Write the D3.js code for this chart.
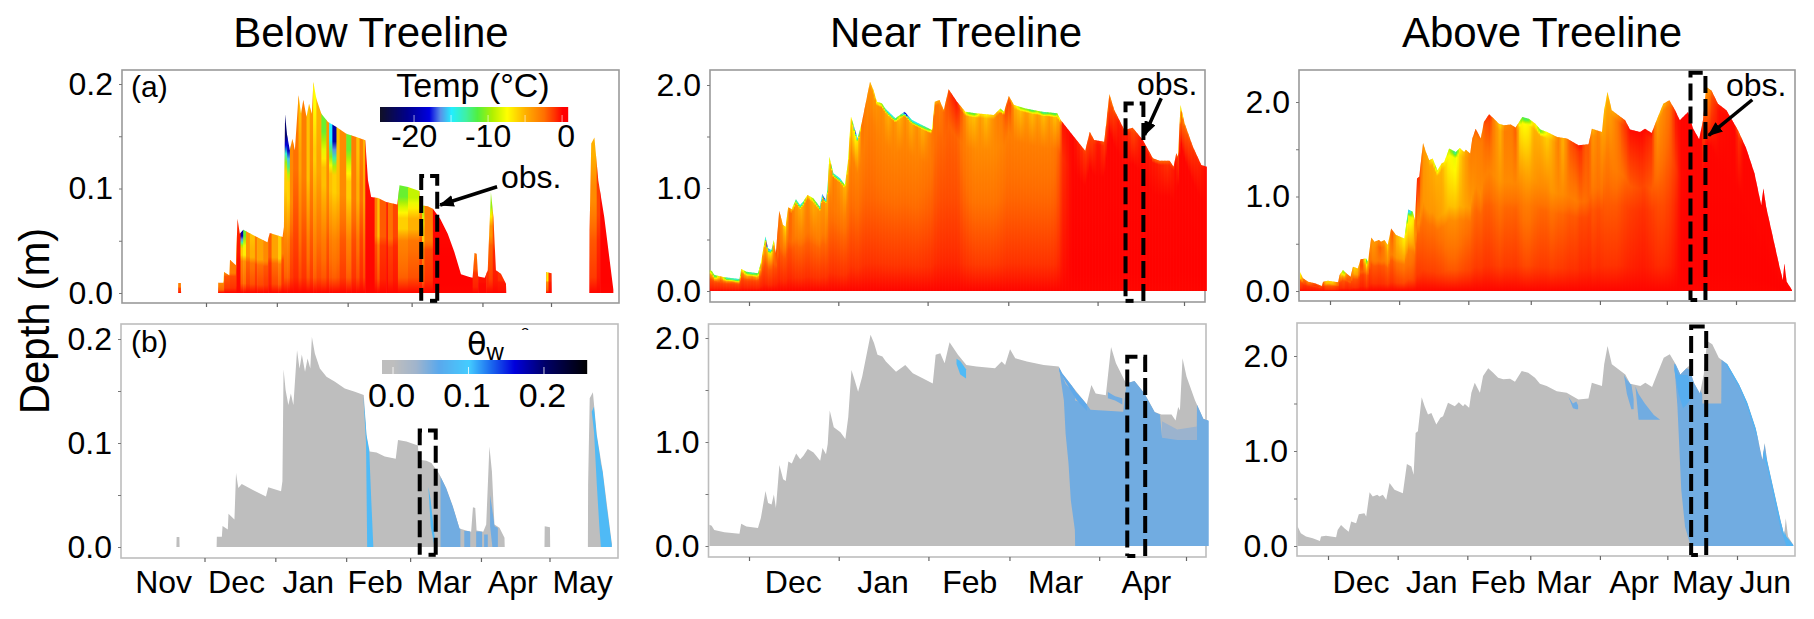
<!DOCTYPE html>
<html>
<head>
<meta charset="utf-8">
<script src="https://cdn.jsdelivr.net/npm/d3@7"></script>
<style>
  body { margin: 0; background: #fff; }
  text { font-family: "Liberation Sans", Arial, sans-serif; fill: #000; }
</style>
</head>
<body>
<svg id="chart" width="1814" height="619"></svg>
<script>
// days are counted from Dec 1, depth in metres

var monthStarts = [0, 31, 62, 90, 121, 151, 182];

var monthNamesBT = ["Nov", "Dec", "Jan", "Feb", "Mar", "Apr", "May"];
var monthMidsBT = [-17.9, 14, 45.4, 74.7, 104.8, 134.9, 165.5];
var monthNamesNT = ["Dec", "Jan", "Feb", "Mar", "Apr"];
var monthMidsNT = [15.3, 46.3, 76.3, 105.9, 137.3];
var monthNamesAT = ["Dec", "Jan", "Feb", "Mar", "Apr", "May", "Jun"];
var monthMidsAT = [14.7, 46.2, 75.7, 104.9, 136.2, 166.5, 194.6];

var yTicksBT = [0, 0.05, 0.1, 0.15, 0.2];
var yTicksDeep = [0, 0.5, 1, 1.5, 2];

// snow depth, below treeline
var daysBT = [-12.3, -12.2, -11, -10.9, 5.3, 5.4, 7.6, 7.9, 10.2, 10.5, 13.1, 13.8, 14.8, 16.3, 21.4, 26.9, 27.9, 33.5, 34.1, 34.6, 35.5, 36.7, 37.8, 38.9, 40.5, 41.6, 42.6, 44, 45.1, 46.3, 47, 48.3, 50.5, 53.4, 57.1, 61.4, 65.8, 69.7, 70.9, 72.3, 75.3, 78.9, 83.7, 84.7, 88.4, 93.4, 93.9, 97.1, 99.3, 102.5, 105.8, 108.7, 111.6, 115.3, 116.7, 117.5, 118.5, 119.1, 122, 123.3, 124.7, 125.8, 126.9, 129.1, 131.3, 131.4, 148.8, 148.9, 151.2, 151.3, 167.8, 167.9, 168.6, 170, 171.7, 174.3, 178.3];
var depthBT = [0, 0.0096, 0.0096, 0, 0, 0.0099, 0.0099, 0.0201, 0.0169, 0.0319, 0.0265, 0.0711, 0.0568, 0.0606, 0.0545, 0.0485, 0.0574, 0.0536, 0.0632, 0.171, 0.151, 0.1365, 0.1477, 0.1365, 0.1892, 0.1716, 0.185, 0.1684, 0.1812, 0.1716, 0.2019, 0.186, 0.1716, 0.1636, 0.1589, 0.1525, 0.1493, 0.1461, 0.1078, 0.0919, 0.0909, 0.0871, 0.0848, 0.103, 0.1014, 0.0976, 0.0839, 0.0829, 0.0807, 0.0711, 0.0568, 0.0392, 0.0179, 0.0153, 0.0147, 0.0383, 0.0376, 0.0159, 0.0147, 0.0217, 0.0967, 0.0727, 0.0217, 0.0185, 0.0089, 0, 0, 0.02, 0.019, 0, 0, 0.06, 0.143, 0.1487, 0.108, 0.0727, 0.003];

// temperature of the strips, below treeline (last entry closes the strips)
var colDaysBT = [-12.2, -11, 5.4, 7.9, 10.5, 13.1, 13.4, 15.1, 16.3, 17.5, 19.2, 21.4, 22.4, 25, 27.2, 28.7, 31.6, 33, 34.1, 35.5, 36.7, 38.1, 40.5, 41.8, 44, 45.4, 46.9, 48.3, 50.5, 52.7, 53.9, 55.3, 57.1, 58.5, 61.4, 63.6, 65.8, 67.2, 68.7, 69.7, 73.8, 75, 76, 78.9, 79.6, 81.8, 84, 88.4, 93.4, 94.6, 95.6, 99.3, 116.7, 119.1, 122.6, 123.7, 125.5, 127.7, 131.4, 148.9, 149.9, 151.2, 167.9, 171, 172.5, 178.3];
var colMidBT = [-3, -3, -6.5, -3.5, -3, -3, -0.5, -6, -7, -4, -5, -3, -4.5, -3.5, -2, -4.5, -6, -3, -6, -6, -3.5, -2.5, -4.5, -3, -5.5, -3.5, -6, -4.5, -5.5, -3.5, -5.5, -6, -5.5, -3.5, -6, -3, -5, -2.5, -4.5, -0.3, -3, -5.5, -2, -0.5, -2.5, -1.5, -6, -5, -3, -6, -3, -0.1, -2, -0.3, -2, -4, -1.5, -1, -1, -7, -1, -1, -3.5, -1.5, -0.1, -0.1];
var colTopBT = [-3, -3, -6.5, -4, -3, -3.5, -0.8, -20, -11, -4, -5.5, -3, -4.5, -3.5, -2, -4.5, -6, -3, -22, -19, -3.5, -3, -5.5, -3, -5.5, -4, -7.5, -5, -11, -4, -15, -20, -5.5, -3.5, -11, -3, -5.5, -3, -5, -0.3, -3, -5.5, -2, -0.5, -2.5, -1.5, -11, -9, -3, -9, -3, -0.1, -2.5, -0.3, -2.5, -10, -2, -1, -1, -7, -1, -1, -5, -1, -0.1, -0.1];

// snow depth, near treeline
var daysNT = [-13.7, -12.9, -12, -8.5, -3.3, -2.7, -0.9, 3.1, 4.1, 4.9, 5.7, 6.6, 7.8, 8.6, 9.3, 10.5, 11.8, 12.7, 13.6, 14.8, 16.3, 17.7, 18.8, 20.3, 22.3, 24.6, 25.4, 26.6, 27.2, 27.9, 29.3, 31.6, 33.3, 34.3, 35.4, 36.5, 37.7, 39.1, 42, 43.2, 44.4, 46.1, 47.3, 50.8, 54, 56.6, 60, 63.5, 64.5, 66.1, 67.6, 69.3, 72.2, 75.1, 78.6, 85, 87.3, 88.5, 90.2, 92, 96, 101.8, 107, 108.2, 112.3, 116.7, 118.3, 119.8, 123.3, 125.1, 126.8, 130.3, 133.2, 136.7, 140.2, 142.5, 146, 147.4, 148.3, 148.9, 149.8, 151.2, 154.1, 157, 158.9];
var depthNT = [0.204, 0.194, 0.155, 0.133, 0.117, 0.214, 0.188, 0.172, 0.269, 0.398, 0.528, 0.414, 0.398, 0.495, 0.366, 0.78, 0.641, 0.625, 0.812, 0.793, 0.89, 0.835, 0.867, 0.932, 0.9, 0.819, 0.942, 0.883, 0.981, 1.304, 1.142, 1.094, 1.029, 1.24, 1.693, 1.595, 1.482, 1.628, 2.032, 1.951, 1.838, 1.822, 1.773, 1.676, 1.741, 1.66, 1.612, 1.563, 1.838, 1.854, 1.757, 1.958, 1.838, 1.741, 1.725, 1.709, 1.773, 1.741, 1.893, 1.806, 1.773, 1.741, 1.725, 1.66, 1.515, 1.362, 1.547, 1.466, 1.45, 1.913, 1.757, 1.563, 1.586, 1.466, 1.288, 1.265, 1.265, 1.207, 1.337, 1.304, 1.806, 1.628, 1.401, 1.223, 1.207];

var tempDaysNT = [-13.7, -12, -10, -8, -6, -4, -2.7, -1, 1, 3, 4.5, 6, 7.5, 9, 10.5, 12.5, 14, 16, 18, 20, 22, 24, 26, 27.5, 29, 31.5, 33, 35.4, 36.5, 37.7, 39, 41, 43, 46, 48, 50, 52, 54, 56, 58, 60, 62, 64, 66, 68, 70, 72, 74, 76, 78, 80, 82, 84, 86, 87.5, 89, 90.5, 92, 94, 96, 98, 100, 102, 104, 106, 107.5, 108.5, 112, 118.3, 121, 125, 128, 131, 133, 136, 141, 145, 148, 149.8, 151.2, 154, 158.9];
var tempMidNT = [-2, -2, -1.8, -2, -1.8, -2, -1.8, -2, -1.8, -2, -2, -2.5, -2.5, -2, -2.5, -2.5, -2.2, -3, -3, -2.7, -3, -3, -3, -3.2, -2.8, -3, -3, -3.2, -3.2, -3.2, -3, -3, -3, -3.2, -3.2, -3.2, -3.2, -3.2, -3.2, -3.2, -3, -2.8, -2.6, -2.3, -2.2, -2.2, -2.2, -2.8, -3.2, -3.5, -3.5, -3.5, -3.5, -3.4, -3.2, -3, -3, -3, -3, -3, -3, -3, -3, -3, -2.8, -2, -1, -0.1, -0.1, -0.1, -0.1, -0.1, -0.1, -0.1, -0.1, -0.1, -0.1, -0.1, -0.1, -0.1, -0.1, -0.1];
var tempSubNT = [-4, -5, -2, -4, -2.5, -5, -3, -5, -3, -5, -4, -6, -7, -1.5, -3, -6, -2, -4, -5, -3, -5, -4, -4, -6, -3, -4, -5, -6, -8, -6, -2.5, -3.5, -4, -3.5, -5, -3.5, -5, -3.5, -5, -3.5, -5, -3.5, -2.5, -3, -2, -1, -0.5, -2.5, -5, -5.5, -4, -5.5, -4, -3, -3, -1.5, -1.5, -4.5, -5.5, -4, -5.5, -4, -5.5, -4, -5.5, -4, -0.5, -0.1, -1.5, -0.3, -2, -0.5, -0.5, -1.5, -0.3, -0.5, -1, -0.3, -3, -2, -1, -0.1];
var tempTopNT = [-9, -12, -4, -13, -13, -14, -6, -12, -13, -11, -6, -18, -14, -2, -3, -7, -3, -13, -15, -5, -10, -13, -18, -7, -13, -15, -9, -7, -18, -14, -2, -4, -6, -10, -15, -14, -9, -19, -14, -15, -13, -12, -5, -4, -3, -1, -0.5, -5, -11, -11, -6, -7, -6, -5, -11, -2, -4, -6, -10, -10, -12, -9, -13, -11, -12, -8, -0.5, -0.1, -2, -0.5, -3.5, -1, -1, -2, -0.3, -2, -2, -1, -8, -3, -1.5, -0.1];

// snow depth, above treeline
var daysAT = [-13.5, -12.1, -9.8, -6.8, -3.6, -3.1, -0.9, 3.6, 4.3, 5.8, 7.3, 9.2, 10.3, 12.5, 13.7, 16.2, 17, 18.5, 19.9, 21.9, 22.9, 24.4, 25.9, 27.4, 29.6, 33.3, 35.1, 37.1, 38.1, 39, 40, 41.7, 43, 44.5, 46, 48.2, 50, 51.2, 53.4, 56.4, 58.2, 60.1, 60.9, 62.8, 63.8, 65.3, 67.6, 69, 71.3, 73.5, 75.7, 78, 81, 83.2, 86.2, 89.1, 92.1, 94.3, 97.3, 101.8, 106.2, 111.4, 115.9, 117.4, 121.9, 122.9, 124.4, 126.3, 132.3, 134.5, 139, 141.2, 144.2, 146.4, 149.4, 152.1, 154.6, 156.8, 160.5, 162.8, 165.5, 167.2, 168.7, 171, 173.9, 177.7, 182.9, 186.6, 190.3, 193.3, 194.3, 195.5, 198.5, 201.5, 203, 203.7, 204.7, 207.1];
var depthAT = [0.204, 0.134, 0.099, 0.081, 0.053, 0.099, 0.109, 0.092, 0.169, 0.222, 0.187, 0.151, 0.257, 0.239, 0.335, 0.345, 0.31, 0.567, 0.521, 0.539, 0.521, 0.539, 0.486, 0.662, 0.592, 0.556, 0.863, 0.838, 0.75, 1.19, 1.208, 1.567, 1.472, 1.384, 1.401, 1.278, 1.349, 1.366, 1.507, 1.472, 1.514, 1.472, 1.496, 1.454, 1.613, 1.718, 1.613, 1.789, 1.87, 1.824, 1.771, 1.754, 1.761, 1.729, 1.842, 1.824, 1.771, 1.708, 1.683, 1.63, 1.613, 1.542, 1.553, 1.718, 1.683, 1.912, 2.106, 1.912, 1.806, 1.708, 1.683, 1.718, 1.673, 1.806, 1.982, 2.018, 1.919, 1.806, 1.894, 1.718, 1.606, 1.806, 2.158, 2.123, 1.982, 1.912, 1.701, 1.507, 1.243, 0.908, 1.085, 0.891, 0.574, 0.257, 0.116, 0.292, 0.099, 0.011];

var tempDaysAT = [-13.5, -12, -10, -7, -3.6, -2, 1, 3.6, 5.8, 7, 9, 10.3, 12.5, 13.7, 15, 16.2, 17, 18.5, 20, 22, 24, 25.5, 27.4, 29.6, 33, 35, 36, 37, 38.1, 39.5, 41.7, 44, 47, 50, 53, 56, 58, 60, 63, 65.3, 67.6, 69, 71.3, 73, 76, 78, 81, 83, 85, 87, 89, 91, 94, 97, 99, 102, 104, 107, 110, 112, 114, 116, 117.4, 120, 122.9, 125, 128, 131, 134, 140, 144, 146.4, 149, 152, 154.6, 157, 160, 166, 167.5, 169, 171, 174, 181, 183, 185, 207];
var tempMidAT = [-2.5, -1.5, -1.5, -1.5, -1.5, -3, -3, -2, -3, -2, -2.2, -3, -2.5, -2, -2.2, -3.5, -2, -3, -3, -2.7, -3, -3.5, -3, -4, -4.5, -5, -5, -4.5, -3.5, -3.5, -4, -4, -4, -4.5, -5.5, -5.5, -5, -4.5, -4, -3.5, -3.5, -3.2, -3.2, -3.5, -4, -3.5, -3.5, -3.3, -4, -4.5, -4.5, -4, -3.5, -3.5, -4, -3.5, -3.5, -3, -3, -2.4, -2.5, -2.2, -3, -2.5, -3, -3, -3, -2.5, -2, -1.5, -2, -2.5, -2.5, -2, -1.2, -0.2, -0.1, -0.1, -0.1, -0.1, -0.1, -0.1, -0.1, -0.1, -0.1, -0.1];
var tempSubAT = [-6, -1.5, -2, -1, -1, -5, -5, -2, -5, -2, -2, -5, -4, -1, -3, -7, -2, -4, -3.5, -2, -3, -5, -2, -5, -6.5, -8, -8, -7, -1.5, -1, -4, -4.5, -5, -5, -7.5, -8, -6, -4.5, -3, -3, -3, -2, -1.5, -3, -5, -3, -3, -2, -7, -7.5, -7, -5, -5, -6, -5, -3, -5, -2, -1.5, -1, -2, -2, -4, -3, -5, -4.5, -3, -1.5, -0.5, -0.3, -1, -4, -3.5, -2.5, -0.5, -0.1, -0.1, -0.1, -2, -3.5, -1.5, -0.3, -0.1, -1, -0.1, -0.1];
var tempTopAT = [-7, -2, -3, -1.5, -2, -6, -6, -2, -11, -3, -2, -6, -5, -1, -5, -12, -3, -4, -4, -3, -4, -6, -2, -5, -7, -16, -13, -9, -1, -1, -4, -5, -9, -6, -9, -13, -7, -5, -3, -2, -3, -1.5, -1, -3, -6, -3.5, -3, -2, -10, -12, -11, -6, -11, -7, -6, -3, -5, -2, -1, -0.5, -2, -2, -5, -3, -6, -5, -4, -2, -0.3, -0.2, -0.5, -5, -5, -3, -0.5, -0.1, -0.1, -0.1, -3, -4.5, -2, -0.5, -0.2, -2, -0.1, -0.1];

// wet parts of the pack: day, upper and lower limit, water content
var wetDaysBT1 = [69.5, 70.7, 71.2, 72.1, 73, 73.9];
var wetHighBT1 = [0.1458, 0.12, 0.105, 0.093, 0.045, 0];
var wetLowBT1 = [0.1458, 0.0994, 0, 0, 0, 0];
var wetDaysBT2 = [98, 99, 100.7];
var wetHighBT2 = [0.058, 0.045, 0.01];
var wetLowBT2 = [0.058, 0.02, 0];
var wetDaysBT3 = [103.3, 105.8, 108.7, 111, 112];
var wetHighBT3 = [0.069, 0.0568, 0.0392, 0.024, 0.018];
var wetLowBT3 = [0, 0, 0, 0, 0];
var wetDaysBT4 = [113.7, 116.3];
var wetHighBT4 = [0.0153, 0.0153];
var wetLowBT4 = [0, 0];
var wetDaysBT5 = [118.9, 121.5];
var wetHighBT5 = [0.015, 0.015];
var wetLowBT5 = [0, 0];
var wetDaysBT6 = [122.4, 124];
var wetHighBT6 = [0.012, 0.012];
var wetLowBT6 = [0, 0];
var wetDaysBT7 = [125, 126, 127, 128.4];
var wetHighBT7 = [0.05, 0.035, 0.02, 0.0185];
var wetLowBT7 = [0.02, 0, 0, 0];
var wetDaysBT8 = [169.5, 170.5, 171.7, 172.8, 173.5, 174.3, 176, 178.3];
var wetHighBT8 = [0.13, 0.135, 0.108, 0.092, 0.08, 0.0727, 0.04, 0.003];
var wetLowBT8 = [0.13, 0.11, 0.06, 0.02, 0, 0, 0, 0];

var wetDaysNT1 = [107.2, 108.8, 109.4, 110.4, 111.2, 112.6, 112.7, 116.7, 118, 129.3, 130.6, 133.2, 136.7, 140.2, 142, 142.7, 154.7, 154.8, 157, 158.9];
var wetHighNT1 = [1.71, 1.6, 1.56, 1.53, 1.515, 1.44, 1.4, 1.362, 1.31, 1.29, 1.6, 1.6, 1.466, 1.288, 1.265, 1.05, 1.03, 1.4, 1.223, 1.207];
var wetLowNT1 = [1.7, 1.4, 1.08, 0.795, 0.44, 0.154, 0, 0, 0, 0, 0, 0, 0, 0, 0, 0, 0, 0, 0, 0];
var wetDaysNT2 = [107.2, 110, 113, 116.7];
var wetHighNT2 = [1.75, 1.62, 1.48, 1.37];
var wetLowNT2 = [1.68, 1.55, 1.41, 1.3];
var wetDaysNT3 = [71.7, 73, 75];
var wetHighNT3 = [1.8, 1.78, 1.7];
var wetLowNT3 = [1.75, 1.65, 1.61];
var wetDaysNT4 = [142.7, 148, 154.8];
var wetHighNT4 = [1.2, 1.12, 1.15];
var wetLowNT4 = [1.04, 1.02, 1.02];
var wetDaysNT5 = [124, 126.5, 129];
var wetHighNT5 = [1.48, 1.44, 1.42];
var wetLowNT5 = [1.42, 1.4, 1.36];

var wetDaysAT1 = [154.1, 155.5, 157.2, 158.9, 161.4, 166.5, 166.6, 175, 175.1, 177.7, 182.9, 186.6, 190.3, 193.3, 194.3, 195.5, 198.5, 201.5, 203, 207.1];
var wetHighAT1 = [1.92, 1.9, 1.85, 1.88, 1.85, 1.6, 1.5, 1.5, 1.98, 1.912, 1.701, 1.507, 1.243, 0.908, 1.085, 0.891, 0.574, 0.257, 0.116, 0.011];
var wetLowAT1 = [1.92, 1.467, 0.59, 0.2, 0, 0, 0, 0, 0, 0, 0, 0, 0, 0, 0, 0, 0, 0, 0, 0];
var wetDaysAT2 = [131.7, 133, 135, 136];
var wetHighAT2 = [1.8, 1.75, 1.7, 1.55];
var wetLowAT2 = [1.8, 1.6, 1.44, 1.44];
var wetDaysAT3 = [136.8, 138.2, 141, 145, 147.8];
var wetHighAT3 = [1.68, 1.6, 1.5, 1.38, 1.33];
var wetLowAT3 = [1.68, 1.33, 1.33, 1.33, 1.33];
var wetDaysAT4 = [107, 109, 110.5, 111.3];
var wetHighAT4 = [1.57, 1.5, 1.52, 1.48];
var wetLowAT4 = [1.57, 1.45, 1.44, 1.44];
var wetDaysAT5 = [154.1, 156, 158, 160, 161.4];
var wetHighAT5 = [1.92, 1.8, 1.8, 1.8, 1.7];
var wetLowAT5 = [1.85, 1.6, 1.45, 1.5, 1.55];
var wetDaysAT6 = [176, 183, 186.6, 190.3, 195.5, 198.5, 201.5, 204, 207.1];
var wetHighAT6 = [2, 1.72, 1.507, 1.243, 0.891, 0.574, 0.257, 0.1, 0.011];
var wetLowAT6 = [1.95, 1.67, 1.46, 1.19, 0.82, 0.5, 0.17, 0, 0];

// colour scales
var legendTemps = [-24.8, -21, -18, -16.5, -15, -13, -11.5, -9.5, -7.5, -5, -2.5, -1, 0];
var legendTempColors = ["#111122", "#00008b", "#0000e0", "#5a90e8", "#22eeff", "#40f0a0", "#50f040", "#b0f000", "#ffff00", "#ffb000", "#ff7000", "#ff3000", "#ff0000"];
var tempTickValues = [-20, -15, -10, -5, 0];
var tempLabelValues = [-20, -10, 0];

var legendThetas = [-0.015, 0, 0.03, 0.06, 0.1, 0.13, 0.16, 0.2, 0.257];
var legendThetaColors = ["#bebebe", "#bebebe", "#a0b4cc", "#5aa8ec", "#44ccff", "#1a66ee", "#0000dd", "#00006a", "#000000"];
var thetaTickValues = [0, 0.1, 0.2];

var wetBulk = 0.05;
var wetEdge = 0.08;
var wetFaint = 0.032;

var tempColor = d3.scaleLinear().domain(legendTemps).range(legendTempColors).clamp(true);
var thetaColor = d3.scaleLinear().domain(legendThetas).range(legendThetaColors).clamp(true);

function zip(days, depths) {
  return days.map(function(day, i) { return {day: day, depth: depths[i]}; });
}

function band(days, high, low, theta) {
  return {theta: theta, points: days.map(function(day, i) {
    return {day: day, high: high[i], low: low[i]};
  })};
}

var wetBT = [
  band(wetDaysBT1, wetHighBT1, wetLowBT1, wetEdge),
  band(wetDaysBT2, wetHighBT2, wetLowBT2, wetEdge),
  band(wetDaysBT3, wetHighBT3, wetLowBT3, wetBulk),
  band(wetDaysBT4, wetHighBT4, wetLowBT4, wetBulk),
  band(wetDaysBT5, wetHighBT5, wetLowBT5, wetBulk),
  band(wetDaysBT6, wetHighBT6, wetLowBT6, wetBulk),
  band(wetDaysBT7, wetHighBT7, wetLowBT7, wetBulk),
  band(wetDaysBT8, wetHighBT8, wetLowBT8, wetEdge)
];
var wetNT = [
  band(wetDaysNT1, wetHighNT1, wetLowNT1, wetBulk),
  band(wetDaysNT2, wetHighNT2, wetLowNT2, 0.058),
  band(wetDaysNT3, wetHighNT3, wetLowNT3, wetEdge),
  band(wetDaysNT4, wetHighNT4, wetLowNT4, wetFaint),
  band(wetDaysNT5, wetHighNT5, wetLowNT5, wetBulk)
];
var wetAT = [
  band(wetDaysAT1, wetHighAT1, wetLowAT1, wetBulk),
  band(wetDaysAT2, wetHighAT2, wetLowAT2, wetBulk),
  band(wetDaysAT3, wetHighAT3, wetLowAT3, wetBulk),
  band(wetDaysAT4, wetHighAT4, wetLowAT4, wetBulk),
  band(wetDaysAT5, wetHighAT5, wetLowAT5, 0.066),
  band(wetDaysAT6, wetHighAT6, wetLowAT6, 0.072)
];

var obsBT = {days: [94.2, 101.2], depths: [-0.0075, 0.112], foot: "right"};
var obsNT = {days: [130.7, 136.9], depths: [-0.096, 1.82], foot: "left"};
var obsAT = {days: [161.6, 168.3], depths: [-0.095, 2.31], foot: "left"};

var arrowBT = {from: [127.4, 0.1017], to: [102.5, 0.0842]};
var arrowNT = {from: [143.1, 1.871], to: [137.3, 1.515]};
var arrowAT = {from: [189.3, 2.024], to: [169.8, 1.647]};

var svg = d3.select("#chart");
var defs = svg.append("defs");

defs.append("filter").attr("id", "soft")
  .attr("x", "-2%").attr("y", "-2%").attr("width", "104%").attr("height", "104%")
  .attr("color-interpolation-filters", "sRGB")
  .append("feGaussianBlur").attr("stdDeviation", 0.55);

var marker = defs.append("marker").attr("id", "head")
  .attr("viewBox", "0 0 10 8").attr("refX", 9).attr("refY", 4)
  .attr("markerWidth", 15).attr("markerHeight", 12)
  .attr("markerUnits", "userSpaceOnUse").attr("orient", "auto");
marker.append("path").attr("d", "M0,0L10,4L0,8Z").attr("fill", "#000");

// heights and temperatures of one column, from bottom to surface
function columnStops(d, mid, sub, top, shape) {
  var base = Math.min(shape.base, 0.5 * d);
  var crust = Math.min(shape.crust, 0.1 * d);
  var fade = Math.min(shape.fade, 0.2 * d);
  var streak = Math.min(shape.streak, 0.4 * d);
  var knots = [
    [0, -0.1],
    [base * 0.3, mid * 0.35],
    [base, mid * shape.lower],
    [Math.max(d - streak, base), mid],
    [Math.max(d - crust - fade, base), sub],
    [d - crust, top],
    [d, top]
  ];
  var stops = [];
  knots.forEach(function(k, i) {
    if (i == knots.length - 1) { stops.push(k); return; }
    var next = knots[i + 1];
    d3.range(4).forEach(function(j) {
      stops.push([k[0] + (next[0] - k[0]) * j / 4, k[1] + (next[1] - k[1]) * j / 4]);
    });
  });
  return stops.map(function(s) {
    return {offset: d > 0 ? s[0] / d : 0, color: tempColor(s[1])};
  });
}

function drawField(layer, id, x, y, cols, shape) {
  var gradients = defs.selectAll("linearGradient." + id)
    .data(cols)
    .enter()
    .append("linearGradient")
    .attr("class", id)
    .attr("id", function(c, i) { return id + "-" + i; })
    .attr("gradientUnits", "userSpaceOnUse")
    .attr("x1", 0).attr("x2", 0)
    .attr("y1", y(0))
    .attr("y2", function(c) { return y(Math.max(c.d, 0.0001)); });

  gradients.selectAll("stop")
    .data(function(c) { return columnStops(c.d, c.mid, c.sub, c.top, shape); })
    .enter()
    .append("stop")
    .attr("offset", function(s) { return s.offset; })
    .attr("stop-color", function(s) { return s.color; });

  layer.selectAll("rect.col")
    .data(cols)
    .enter()
    .append("rect")
    .attr("class", "col")
    .attr("x", function(c) { return x(c.from); })
    .attr("width", function(c) { return x(c.to) - x(c.from) + 0.6; })
    .attr("y", function(c) { return y(c.h); })
    .attr("height", function(c) { return y(0) - y(c.h); })
    .attr("fill", function(c, i) { return "url(#" + id + "-" + i + ")"; });
}

function stripColumns(depthAt, peak, days, mid, top) {
  return days.slice(0, -1).map(function(day, i) {
    var next = days[i + 1];
    var d = Math.max(depthAt(day), depthAt((day + next) / 2), depthAt(next));
    return {from: day, to: next, d: d, h: peak, mid: mid[i], sub: mid[i], top: top[i]};
  }).filter(function(c) { return c.d > 0; });
}

function smoothColumns(x, depthAt, peak, days, mid, sub, top) {
  var midAt = d3.scaleLinear().domain(days).range(mid);
  var subAt = d3.scaleLinear().domain(days).range(sub);
  var topAt = d3.scaleLinear().domain(days).range(top);
  var x0 = x(days[0]);
  var x1 = x(days[days.length - 1]);
  return d3.range(x0, x1, 1.5).map(function(px) {
    var day = x.invert(px);
    var c = x.invert(px + 1.5);
    return {from: day, to: c, d: depthAt(x.invert(px + 0.75)), h: peak,
      mid: midAt(day), sub: subAt(day), top: topAt(day)};
  });
}

function drawFrame(g, p, xTicks, yTicks) {
  g.append("rect")
    .attr("x", p.frame[0]).attr("y", p.frame[2])
    .attr("width", p.frame[1] - p.frame[0]).attr("height", p.frame[3] - p.frame[2])
    .attr("fill", "none").attr("stroke", p.frameColor).attr("stroke-width", 1.6);

  var xAxis = g.append("g")
    .attr("transform", "translate(0," + p.frame[3] + ")")
    .call(d3.axisBottom(p.x).tickValues(xTicks).tickSize(4).tickFormat(""));
  xAxis.select(".domain").remove();
  xAxis.selectAll("line").attr("stroke", "#666").attr("stroke-width", 1.2);

  var yAxis = g.append("g")
    .attr("transform", "translate(" + p.frame[0] + ",0)")
    .call(d3.axisLeft(p.y).tickValues(yTicks).tickSize(3).tickPadding(6)
      .tickFormat(function(v) {
        return yTicks.indexOf(v) % 2 == 0 ? d3.format(".1f")(v) : "";
      }));
  yAxis.select(".domain").remove();
  yAxis.selectAll("line").attr("stroke", "#777");
  yAxis.selectAll("text").style("font-size", "32px")
    .style("font-family", '"Liberation Sans", Arial, sans-serif');
}

function drawObs(g, p, obs) {
  var line = d3.line()
    .x(function(d) { return p.x(d[0]); })
    .y(function(d) { return p.y(d[1]); });
  var a = obs.days[0], b = obs.days[1], lo = obs.depths[0], hi = obs.depths[1];
  g.append("path")
    .attr("d", line([[b, lo], [b, hi], [a, hi], [a, lo]]))
    .attr("fill", "none").attr("stroke", "#000").attr("stroke-width", 4)
    .attr("stroke-dasharray", "17 6");
  var foot = obs.foot == "right" ? [[b - (b - a) * 0.45, lo], [b, lo]] : [[a, lo], [a + (b - a) * 0.45, lo]];
  g.append("path")
    .attr("d", line(foot))
    .attr("fill", "none").attr("stroke", "#000").attr("stroke-width", 4);
}

function drawMonths(g, p, names, mids, baseline) {
  g.selectAll("text.month")
    .data(names)
    .enter()
    .append("text")
    .attr("class", "month")
    .attr("x", function(n, i) { return p.x(mids[i]); })
    .attr("y", baseline)
    .attr("text-anchor", "middle")
    .style("font-size", "32px")
    .text(function(n) { return n; });
}

function drawSite(cfg) {
  var top = cfg.top, bot = cfg.bottom;
  top.x = d3.scaleLinear().domain([0, cfg.tickSpan]).range(top.xPx);
  bot.x = d3.scaleLinear().domain([0, cfg.tickSpan]).range(bot.xPx);
  top.y = d3.scaleLinear().domain([0, cfg.yRef]).range(top.yPx);
  bot.y = d3.scaleLinear().domain([0, cfg.yRef]).range(bot.yPx);
  top.frameColor = "#9a9a9a";
  bot.frameColor = "#bdbdbd";

  var snow = zip(cfg.days, cfg.depth);
  var depthAt = d3.scaleLinear().domain(cfg.days).range(cfg.depth).clamp(true);
  var peak = d3.max(cfg.depth);

  // top row: temperature
  var gt = svg.append("g");
  drawFrame(gt, top, cfg.xTicks, cfg.yTicks);
  var clipT = cfg.id + "-clipT";
  defs.append("clipPath").attr("id", clipT).append("path")
    .attr("d", d3.area()
      .x(function(d) { return top.x(d.day); })
      .y0(top.y(0))
      .y1(function(d) { return top.y(d.depth); })(snow));
  var fieldT = gt.append("g").attr("filter", "url(#soft)")
    .append("g").attr("clip-path", "url(#" + clipT + ")");
  drawField(fieldT, cfg.id, top.x, top.y, cfg.columns(top.x, depthAt, peak), cfg.shape);
  drawObs(gt, top, cfg.obsTop);

  gt.append("line")
    .attr("x1", top.x(cfg.arrow.from[0])).attr("y1", top.y(cfg.arrow.from[1]))
    .attr("x2", top.x(cfg.arrow.to[0])).attr("y2", top.y(cfg.arrow.to[1]))
    .attr("stroke", "#000").attr("stroke-width", 3.5).attr("marker-end", "url(#head)");
  gt.append("text")
    .attr("x", cfg.obsLabel[0]).attr("y", cfg.obsLabel[1])
    .style("font-size", "32px")
    .text("obs.");

  // bottom row: water content
  var gb = svg.append("g");
  drawFrame(gb, bot, cfg.xTicks, cfg.yTicks);
  var clipB = cfg.id + "-clipB";
  defs.append("clipPath").attr("id", clipB).append("path")
    .attr("d", d3.area()
      .x(function(d) { return bot.x(d.day); })
      .y0(bot.y(0))
      .y1(function(d) { return bot.y(d.depth); })(snow));
  var fieldB = gb.append("g").attr("filter", "url(#soft)")
    .append("g").attr("clip-path", "url(#" + clipB + ")");
  fieldB.append("rect")
    .attr("x", bot.frame[0]).attr("width", bot.frame[1] - bot.frame[0])
    .attr("y", bot.frame[2]).attr("height", bot.y(0) - bot.frame[2])
    .attr("fill", thetaColor(0));
  var wetArea = d3.area()
    .x(function(d) { return bot.x(d.day); })
    .y0(function(d) { return bot.y(d.low); })
    .y1(function(d) { return bot.y(d.high); });
  fieldB.selectAll("path.wet")
    .data(cfg.wet)
    .enter()
    .append("path")
    .attr("class", "wet")
    .attr("d", function(w) { return wetArea(w.points); })
    .attr("fill", function(w) { return thetaColor(w.theta); });
  drawObs(gb, bot, cfg.obsBottom);
  drawMonths(gb, bot, cfg.monthNames, cfg.monthMids, 593);

  svg.append("text")
    .attr("x", cfg.titleX).attr("y", 47)
    .attr("text-anchor", "middle")
    .style("font-size", "42px")
    .text(cfg.title);
}

drawSite({
  id: "bt", title: "Below Treeline", titleX: 371,
  days: daysBT, depth: depthBT, yRef: 0.2, yTicks: yTicksBT,
  tickSpan: 151, xTicks: monthStarts.slice(0, 6),
  monthNames: monthNamesBT, monthMids: monthMidsBT,
  top: {frame: [122, 619, 70, 303], xPx: [206, 551], yPx: [293, 84]},
  bottom: {frame: [121, 618, 324, 558], xPx: [204.5, 549.5], yPx: [547, 339]},
  columns: function(x, depthAt, peak) {
    return stripColumns(depthAt, peak, colDaysBT, colMidBT, colTopBT);
  },
  shape: {base: 0.05, lower: 0.55, streak: 0.07, crust: 0.02, fade: 0.045},
  wet: wetBT, obsTop: obsBT, obsBottom: obsBT, arrow: arrowBT, obsLabel: [501, 188]
});

drawSite({
  id: "nt", title: "Near Treeline", titleX: 956,
  days: daysNT, depth: depthNT, yRef: 2, yTicks: yTicksDeep,
  tickSpan: 151, xTicks: monthStarts.slice(0, 6),
  monthNames: monthNamesNT, monthMids: monthMidsNT,
  top: {frame: [710, 1205, 70, 302], xPx: [749, 1184], yPx: [291, 85]},
  bottom: {frame: [708.5, 1206, 324, 557], xPx: [749, 1186], yPx: [546, 338]},
  columns: function(x, depthAt, peak) {
    return smoothColumns(x, depthAt, peak, tempDaysNT, tempMidNT, tempSubNT, tempTopNT);
  },
  shape: {base: 0.9, lower: 0.75, streak: 0.35, crust: 0.012, fade: 0.03},
  wet: wetNT, obsTop: obsNT, obsBottom: obsNT, arrow: arrowNT, obsLabel: [1137, 95]
});

drawSite({
  id: "at", title: "Above Treeline", titleX: 1542,
  days: daysAT, depth: depthAT, yRef: 2, yTicks: yTicksDeep,
  tickSpan: 182, xTicks: monthStarts,
  monthNames: monthNamesAT, monthMids: monthMidsAT,
  top: {frame: [1299, 1795, 70, 301], xPx: [1330, 1736], yPx: [291, 102]},
  bottom: {frame: [1297, 1795, 323, 556], xPx: [1328, 1737], yPx: [546, 356]},
  columns: function(x, depthAt, peak) {
    return smoothColumns(x, depthAt, peak, tempDaysAT, tempMidAT, tempSubAT, tempTopAT);
  },
  shape: {base: 0.9, lower: 0.65, streak: 0.6, crust: 0.02, fade: 0.05},
  wet: wetAT, obsTop: obsAT, obsBottom: obsAT, arrow: arrowAT, obsLabel: [1726, 96]
});

// panel letters and shared axis title
svg.append("text").attr("x", 131).attr("y", 97).style("font-size", "30px").text("(a)");
svg.append("text").attr("x", 131).attr("y", 352).style("font-size", "30px").text("(b)");
svg.append("text")
  .attr("transform", "translate(49,321) rotate(-90)")
  .attr("text-anchor", "middle")
  .style("font-size", "42px")
  .text("Depth (m)");

// temperature legend
var tempBar = d3.scaleLinear().domain([-24.6, 0.8]).range([380, 568]);
var legendT = svg.append("g");
legendT.selectAll("rect")
  .data(d3.range(380, 568, 1))
  .enter()
  .append("rect")
  .attr("x", function(px) { return px; })
  .attr("y", 107).attr("width", 1.2).attr("height", 15)
  .attr("fill", function(px) { return tempColor(tempBar.invert(px)); });
legendT.selectAll("line")
  .data(tempTickValues)
  .enter()
  .append("line")
  .attr("x1", tempBar).attr("x2", tempBar)
  .attr("y1", 115).attr("y2", 122)
  .attr("stroke", "#fff").attr("stroke-opacity", 0.6);
legendT.selectAll("text.lab")
  .data(tempLabelValues)
  .enter()
  .append("text")
  .attr("class", "lab")
  .attr("x", function(v) { return v == 0 ? tempBar(v) + 4 : tempBar(v); })
  .attr("y", 147)
  .attr("text-anchor", "middle")
  .style("font-size", "32px")
  .text(function(v) { return v; });
legendT.append("text")
  .attr("x", 473).attr("y", 97)
  .attr("text-anchor", "middle")
  .style("font-size", "34px")
  .text("Temp (°C)");

// water content legend
var thetaBar = d3.scaleLinear().domain([-0.0146, 0.257]).range([382, 587]);
var legendW = svg.append("g");
legendW.selectAll("rect")
  .data(d3.range(382, 587, 1))
  .enter()
  .append("rect")
  .attr("x", function(px) { return px; })
  .attr("y", 360).attr("width", 1.2).attr("height", 14)
  .attr("fill", function(px) { return thetaColor(thetaBar.invert(px)); });
legendW.selectAll("line")
  .data(thetaTickValues)
  .enter()
  .append("line")
  .attr("x1", thetaBar).attr("x2", thetaBar)
  .attr("y1", 367).attr("y2", 374)
  .attr("stroke", "#fff").attr("stroke-opacity", 0.8);
legendW.selectAll("text.lab")
  .data(thetaTickValues)
  .enter()
  .append("text")
  .attr("class", "lab")
  .attr("x", function(v) { return thetaBar(v) - 1.5; })
  .attr("y", 407)
  .attr("text-anchor", "middle")
  .style("font-size", "34px")
  .text(function(v) { return d3.format(".1f")(v); });
var thetaLabel = legendW.append("text")
  .attr("x", 467).attr("y", 355);
thetaLabel.append("tspan")
  .style("font-family", '"DejaVu Sans", sans-serif')
  .style("font-size", "32px")
  .text("θ");
thetaLabel.append("tspan")
  .attr("dy", 5)
  .style("font-family", '"Liberation Sans", sans-serif')
  .style("font-size", "24px")
  .text("w");

// what is left of the cut-off unit above the bar
defs.append("clipPath").attr("id", "unitCut").append("rect")
  .attr("x", 515).attr("y", 324).attr("width", 20).attr("height", 6);
legendW.append("text")
  .attr("x", 521).attr("y", 338)
  .attr("clip-path", "url(#unitCut)")
  .style("font-size", "15px")
  .text("3");
</script>
</body>
</html>
